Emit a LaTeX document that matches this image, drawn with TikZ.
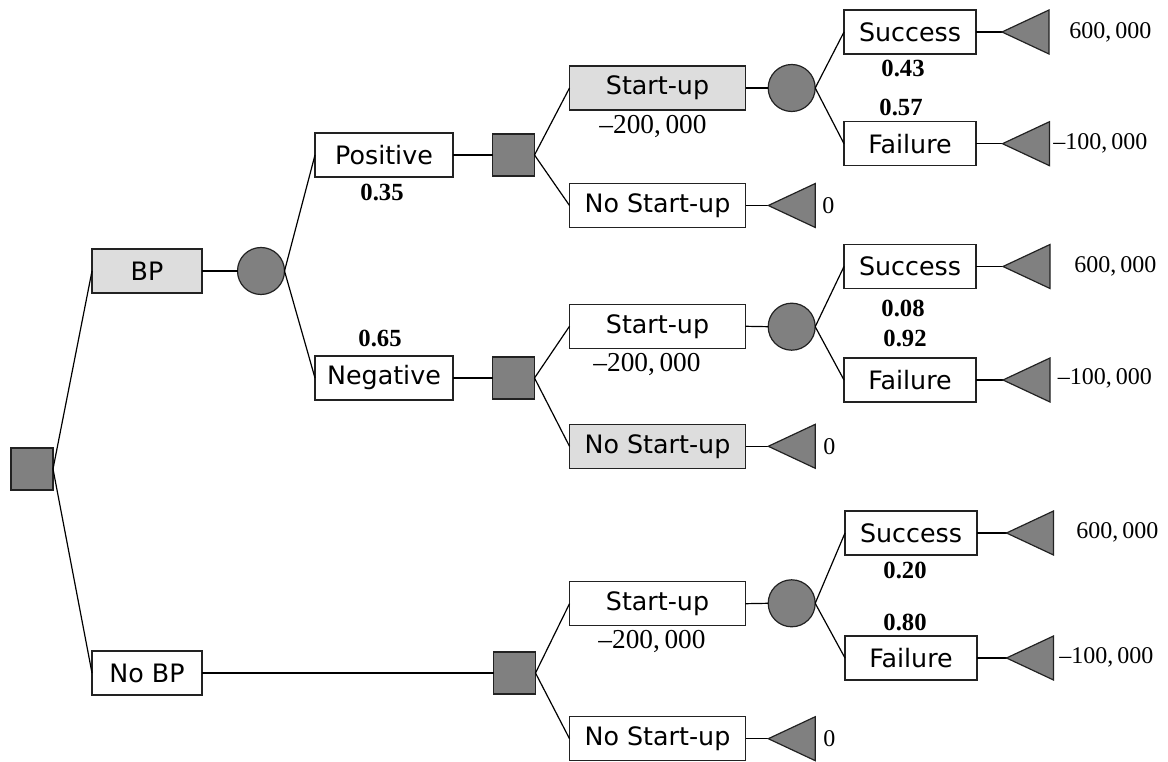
\documentclass[tikz,border=0pt]{standalone}
\usepackage{fontspec}
\setmainfont{Liberation Serif}
\setsansfont{DejaVu Sans}
\definecolor{nodegray}{HTML}{808080}
\definecolor{hilite}{HTML}{DDDDDD}
\definecolor{edge}{HTML}{222222}
\tikzset{
  lbl/.style={draw=edge, line width=0.9pt, fill=white, minimum height=33pt, inner sep=0pt, outer sep=0pt,
    font=\sffamily\fontsize{19pt}{21pt}\selectfont},
  hl/.style={fill=hilite},
  wA/.style={minimum width=82.5pt},
  wB/.style={minimum width=103.5pt},
  wC/.style={minimum width=132pt},
  wD/.style={minimum width=99pt},
  decision/.style={draw=edge, line width=0.9pt, fill=nodegray, minimum size=31.5pt, inner sep=0pt, outer sep=0pt},
  chance/.style={circle, draw=edge, line width=0.9pt, fill=nodegray, minimum size=35.25pt, inner sep=0pt, outer sep=0pt},
  tri/.style={draw=edge, line width=0.9pt, fill=nodegray},
  conn/.style={draw=black, line width=0.9pt},
  prob/.style={inner sep=0pt, font=\bfseries\fontsize{18.5pt}{20pt}\selectfont},
  val/.style={inner sep=0pt, font=\fontsize{18pt}{20pt}\selectfont},
  cost/.style={inner sep=0pt, font=\fontsize{20.5pt}{22pt}\selectfont},
}
\newcommand{\termtri}[1]{\draw[tri] (#1) -- ++(47,22) -- ++(0,-44) -- cycle;}
\begin{document}
\begin{tikzpicture}[x=0.75pt, y=-0.75pt]
\useasboundingbox (0,0) rectangle (1168,762);
% decision / chance nodes
\node[decision] (root) at (32,469) {};
\node[lbl,wA,hl] (BP) at (147,271) {BP};
\node[lbl,wA] (NoBP) at (147,673) {No BP};
\node[chance] (c1) at (261,271) {};
\node[lbl,wB] (Pos) at (384,155) {Positive};
\node[lbl,wB] (Neg) at (384,378) {Negative};
\node[decision] (d1) at (513.5,155) {};
\node[decision] (d2) at (513.5,378) {};
\node[decision] (d3) at (514.5,673) {};
\node[lbl,wC,hl] (SU1) at (657.5,88) {Start-up};
\node[lbl,wC] (NSU1) at (657.5,205.5) {No Start-up};
\node[lbl,wC] (SU2) at (657.5,326.3) {Start-up};
\node[lbl,wC,hl] (NSU2) at (657.5,446.3) {No Start-up};
\node[lbl,wC] (SU3) at (657.5,603.7) {Start-up};
\node[lbl,wC] (NSU3) at (657.5,738.7) {No Start-up};
\node[chance] (c2) at (791.7,88) {};
\node[chance] (c3) at (791.7,326.7) {};
\node[chance] (c4) at (791.7,603.3) {};
\node[lbl,wD] (S1) at (910,32) {Success};
\node[lbl,wD] (F1) at (910,143.7) {Failure};
\node[lbl,wD] (S2) at (910,266.5) {Success};
\node[lbl,wD] (F2) at (910,380) {Failure};
\node[lbl,wD] (S3) at (911,533) {Success};
\node[lbl,wD] (F3) at (911,658) {Failure};
% terminal tips
\coordinate (tN1) at (768.3,205.5);
\coordinate (tN2) at (768.3,446.3);
\coordinate (tN3) at (768.3,738.7);
\coordinate (tS1) at (1002,32);
\coordinate (tF1) at (1002.5,143.7);
\coordinate (tS2) at (1003,266.5);
\coordinate (tF2) at (1003,380);
\coordinate (tS3) at (1006.5,533);
\coordinate (tF3) at (1006.5,658);
% connectors
\draw[conn] (root.east) -- (BP.west);
\draw[conn] (root.east) -- (NoBP.west);
\draw[conn] (BP.east) -- (c1.west);
\draw[conn] (c1.east) -- (Pos.west);
\draw[conn] (c1.east) -- (Neg.west);
\draw[conn] (Pos.east) -- (d1.west);
\draw[conn] (Neg.east) -- (d2.west);
\draw[conn] (NoBP.east) -- (d3.west);
\draw[conn] (d1.east) -- (SU1.west);
\draw[conn] (d1.east) -- (NSU1.west);
\draw[conn] (d2.east) -- (SU2.west);
\draw[conn] (d2.east) -- (NSU2.west);
\draw[conn] (d3.east) -- (SU3.west);
\draw[conn] (d3.east) -- (NSU3.west);
\draw[conn] (SU1.east) -- (c2.west);
\draw[conn] (SU2.east) -- (c3.west);
\draw[conn] (SU3.east) -- (c4.west);
\draw[conn] (c2.east) -- (S1.west);
\draw[conn] (c2.east) -- (F1.west);
\draw[conn] (c3.east) -- (S2.west);
\draw[conn] (c3.east) -- (F2.west);
\draw[conn] (c4.east) -- (S3.west);
\draw[conn] (c4.east) -- (F3.west);
\draw[conn] (NSU1.east) -- (tN1);
\draw[conn] (NSU2.east) -- (tN2);
\draw[conn] (NSU3.east) -- (tN3);
\draw[conn] (S1.east) -- (tS1);
\draw[conn] (F1.east) -- (tF1);
\draw[conn] (S2.east) -- (tS2);
\draw[conn] (F2.east) -- (tF2);
\draw[conn] (S3.east) -- (tS3);
\draw[conn] (F3.east) -- (tF3);
% terminal triangles
\termtri{tN1}\termtri{tN2}\termtri{tN3}
\termtri{tS1}\termtri{tF1}\termtri{tS2}\termtri{tF2}\termtri{tS3}\termtri{tF3}
% probabilities
\node[prob] (p1) at (382,192) {0.35};
\node[prob] (p2) at (380,338) {0.65};
\node[prob] (p3) at (903,68) {0.43};
\node[prob] (p4) at (901,107) {0.57};
\node[prob] (p5) at (903,308) {0.08};
\node[prob] (p6) at (905,338) {0.92};
\node[prob] (p7) at (905,570) {0.20};
\node[prob] (p8) at (905,622) {0.80};
% costs
\node[cost] (k1) at (653,127) {--200,\,000};
\node[cost] (k2) at (647,365) {--200,\,000};
\node[cost] (k3) at (652,642) {--200,\,000};
% payoffs
\node[val,anchor=west] (v1) at (1069,32) {600,\,000};
\node[val,anchor=west] (v2) at (1053,143.7) {--100,\,000};
\node[val,anchor=west] (v3) at (822,205.5) {0};
\node[val,anchor=west] (v4) at (1074,266.5) {600,\,000};
\node[val,anchor=west] (v5) at (1057.5,378) {--100,\,000};
\node[val,anchor=west] (v6) at (823,446.3) {0};
\node[val,anchor=west] (v7) at (1076,532.5) {600,\,000};
\node[val,anchor=west] (v8) at (1059,657) {--100,\,000};
\node[val,anchor=west] (v9) at (823,738.7) {0};
\end{tikzpicture}
\end{document}
